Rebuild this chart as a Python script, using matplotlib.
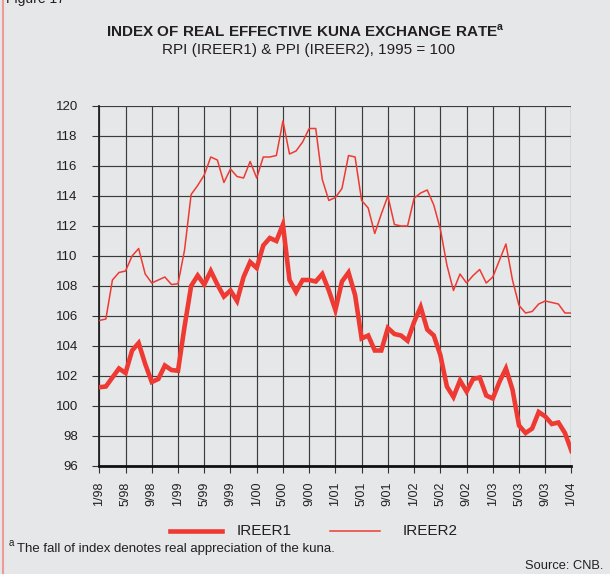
import matplotlib
matplotlib.use("Agg")
import matplotlib.pyplot as plt
from matplotlib.lines import Line2D

plt.rcParams['font.family'] = ['Liberation Sans', 'DejaVu Sans']

# Monthly data 1/98 .. 1/04
ireer1 = [101.25, 101.3, 101.9, 102.5, 102.2, 103.7, 104.2, 102.8, 101.6, 101.8, 102.7, 102.4,
          102.35, 105.3, 108.0, 108.7, 108.1, 109.0, 108.1, 107.3, 107.7, 107.0, 108.6, 109.6,
          109.2, 110.7, 111.2, 111.0, 112.1, 108.4, 107.6, 108.4, 108.4, 108.3, 108.8, 107.7,
          106.4, 108.3, 108.9, 107.4, 104.5, 104.7, 103.7, 103.7, 105.2, 104.8, 104.7, 104.35,
          105.6, 106.6, 105.1, 104.7, 103.4, 101.3, 100.6, 101.7, 100.96, 101.8, 101.9, 100.7,
          100.5, 101.6, 102.5, 101.1, 98.7, 98.2, 98.5, 99.6, 99.3, 98.8, 98.9, 98.2,
          97.0]
ireer2 = [105.7, 105.8, 108.4, 108.9, 109.0, 110.0, 110.5, 108.8, 108.2, 108.4, 108.6, 108.1,
          108.15, 110.4, 114.1, 114.7, 115.4, 116.6, 116.4, 114.9, 115.8, 115.3, 115.2, 116.3,
          115.2, 116.6, 116.6, 116.7, 119.0, 116.8, 117.0, 117.6, 118.5, 118.5, 115.1, 113.7,
          113.9, 114.5, 116.7, 116.6, 113.7, 113.2, 111.5, 112.8, 114.0, 112.1, 112.0, 112.0,
          113.85, 114.2, 114.4, 113.4, 111.8, 109.4, 107.7, 108.8, 108.2, 108.7, 109.1, 108.2,
          108.6, 109.7, 110.8, 108.4, 106.7, 106.2, 106.3, 106.8, 107.0, 106.9, 106.8, 106.2,
          106.2]
x_tick_labels = ['1/98', '5/98', '9/98', '1/99', '5/99', '9/99', '1/00', '5/00', '9/00',
                 '1/01', '5/01', '9/01', '1/02', '5/02', '9/02', '1/03', '5/03', '9/03', '1/04']
y_ticks = [96, 98, 100, 102, 104, 106, 108, 110, 112, 114, 116, 118, 120]

W, H = 610, 574
bg = '#E6E7E9'
red = '#EE3A32'
txt = '#231F20'
fig = plt.figure(figsize=(W / 100, H / 100), dpi=100, facecolor=bg)

ax = fig.add_axes([99.3 / W, 1 - 466 / H, (571.5 - 99.3) / W, (466 - 106) / H])
ax.set_facecolor(bg)

months = list(range(len(ireer1)))
ax.plot(months, ireer1, color=red, lw=3.3, solid_joinstyle='miter', zorder=3)
ax.plot(months, ireer2, color=red, lw=1.1, zorder=3)

ax.set_xlim(0, len(ireer1) - 1)
ax.set_ylim(96, 120)
ax.set_xticks(list(range(0, len(ireer1), 4)))
ax.set_xticklabels(x_tick_labels, rotation=90, fontsize=9, color=txt)
ax.set_yticks(y_ticks)
ax.set_yticklabels([str(v) for v in y_ticks], fontsize=9.5, color=txt)
ax.tick_params(axis='y', direction='out', length=5, width=0.8, color='#333333', pad=10.5)
ax.tick_params(axis='x', direction='out', length=5, width=0.8, color='#333333', pad=6)
ax.grid(True, color='#3c3c3c', lw=0.85, zorder=1)
for s in ['top', 'right']:
    ax.spines[s].set_visible(False)
ax.spines['left'].set_color('#222222')
ax.spines['left'].set_linewidth(1.3)
ax.spines['bottom'].set_color('#111111')
ax.spines['bottom'].set_linewidth(2.0)

# Titles
fig.text(305 / W, 1 - 31 / H, 'INDEX OF REAL EFFECTIVE KUNA EXCHANGE RATE$^{\\mathregular{a}}$',
         ha='center', va='center', fontsize=11, fontweight='bold', color=txt)
fig.text(309 / W, 1 - 50 / H, 'RPI (IREER1) & PPI (IREER2), 1995 = 100',
         ha='center', va='center', fontsize=11, color=txt)
fig.text(6 / W, 1 - (-1) / H, 'Figure 17', ha='left', va='center', fontsize=10, color=txt)

# Legend
ly = 1 - 531 / H
fig.add_artist(Line2D([170 / W, 222 / W], [ly, ly], color=red, lw=3.3))
fig.text(237 / W, ly, 'IREER1', ha='left', va='center', fontsize=11, color=txt)
fig.add_artist(Line2D([330 / W, 380 / W], [ly, ly], color=red, lw=1.1))
fig.text(403 / W, ly, 'IREER2', ha='left', va='center', fontsize=11, color=txt)

# Footnotes
fig.text(9 / W, 1 - 543 / H, 'a', ha='left', va='center', fontsize=7, color=txt)
fig.text(17 / W, 1 - 549 / H, 'The fall of index denotes real appreciation of the kuna.',
         ha='left', va='center', fontsize=9.5, color=txt)
fig.text(603 / W, 1 - 566 / H, 'Source: CNB.', ha='right', va='center', fontsize=9.3,
         color=txt)

# Left pink border
fig.add_artist(Line2D([2.5 / W, 2.5 / W], [0, 1], color='#F09A98', lw=1.5))

fig.savefig('out.png', dpi=100, facecolor=bg)
